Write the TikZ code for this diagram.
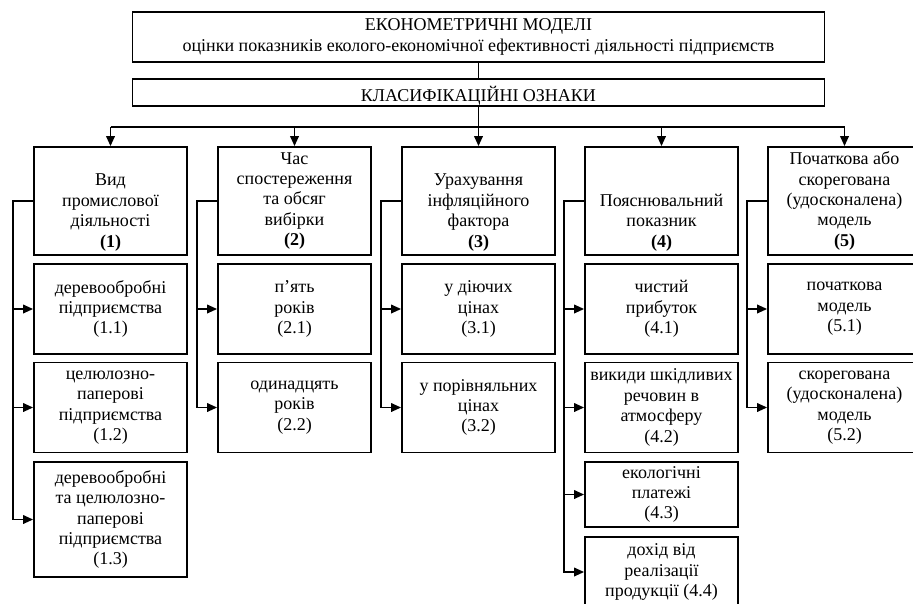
\documentclass[tikz,border=0pt]{standalone}
\usepackage{fontspec}
\setmainfont{Liberation Serif}
\usetikzlibrary{arrows.meta}
\tikzset{
  feld/.style={draw, line width=1.4pt, align=center, inner xsep=1pt, inner ysep=2pt,
    font=\fontsize{13.5}{15.3}\selectfont},
  kopf/.style={feld, minimum width=519pt},
  spalte/.style={feld, minimum width=114.75pt},
  linie/.style={line width=1.2pt},
  pfeil/.style={linie, -{Triangle[length=7.5pt,width=6.5pt]}}
}
\begin{document}
\begin{tikzpicture}[x=0.75pt,y=-0.75pt]
\useasboundingbox (0,0) rectangle (913,603);
\clip (0,0) rectangle (913,603);
% Kopf und Klassifikation
\node[kopf, minimum height=37.5pt] (modeli) at (478.5,37)
  {ЕКОНОМЕТРИЧНІ МОДЕЛІ\\оцінки показників еколого-економічної ефективності діяльності підприємств};
\node[kopf, minimum height=20.25pt, text height=14pt, text depth=0pt] (oznaky) at (478.5,92.5)
  {КЛАСИФІКАЦІЙНІ ОЗНАКИ};
% Merkmale (1)--(5)
\node[spalte, minimum height=81pt] (vyd) at (110.5,201)
  {\strut\\Вид\\промислової\\діяльності\\\textbf{(1)}};
\node[spalte, minimum height=81pt] (chas) at (294.5,201)
  {Час\\спостереження\\та обсяг\\вибірки\\\textbf{(2)}};
\node[spalte, minimum height=81pt] (infl) at (478.5,201)
  {\strut\\Урахування\\інфляційного\\фактора\\\textbf{(3)}};
\node[spalte, minimum height=81pt] (pokaz) at (661.5,201)
  {\strut\\\strut\\Пояснювальний\\показник\\\textbf{(4)}};
\node[spalte, minimum height=81pt] (model) at (844.5,201)
  {Початкова або\\скорегована\\(удосконалена)\\модель\\\textbf{(5)}};
% Spalte 1
\node[spalte, minimum height=67.5pt] (v11) at (110.5,309) {деревообробні\\підприємства\\(1.1)};
\node[spalte, minimum height=67.5pt] (v12) at (110.5,407.5) {целюлозно-\\паперові\\підприємства\\(1.2)};
\node[spalte, minimum height=86.25pt] (v13) at (110.5,519.5) {деревообробні\\та целюлозно-\\паперові\\підприємства\\(1.3)};
% Spalte 2
\node[spalte, minimum height=67.5pt] (c21) at (294.5,309) {п’ять\\років\\(2.1)};
\node[spalte, minimum height=67.5pt] (c22) at (294.5,407.5) {одинадцять\\років\\(2.2)};
% Spalte 3
\node[spalte, minimum height=67.5pt] (i31) at (478.5,309) {у діючих\\цінах\\(3.1)};
\node[spalte, minimum height=67.5pt] (i32) at (478.5,407.5) {у порівняльних\\цінах\\(3.2)};
% Spalte 4
\node[spalte, minimum height=67.5pt] (p41) at (661.5,309) {чистий\\прибуток\\(4.1)};
\node[spalte, minimum height=67.5pt] (p42) at (661.5,407.5) {викиди шкідливих\\речовин в\\атмосферу\\(4.2)};
\node[spalte, minimum height=48.75pt] (p43) at (661.5,494.5) {екологічні\\платежі\\(4.3)};
\node[spalte, minimum height=52.5pt] (p44) at (661.5,572) {дохід від\\реалізації\\продукції (4.4)};
% Spalte 5
\node[spalte, minimum height=67.5pt] (m51) at (844.5,309) {початкова\\модель\\(5.1)};
\node[spalte, minimum height=67.5pt] (m52) at (844.5,407.5) {скорегована\\(удосконалена)\\модель\\(5.2)};
% Verbindungen oben
\coordinate (bus) at (478.5,127);
\draw[linie] (modeli) -- (oznaky);
\draw[linie] (oznaky) -- (bus);
\draw[linie] (vyd.north |- bus) -- (model.north |- bus);
\draw[pfeil] (vyd.north |- bus) -- (vyd);
\draw[pfeil] (chas.north |- bus) -- (chas);
\draw[pfeil] (infl.north |- bus) -- (infl);
\draw[pfeil] (pokaz.north |- bus) -- (pokaz);
\draw[pfeil] (model.north |- bus) -- (model);
% seitliche Zweige
\draw[pfeil] (vyd.west) -- ++(-20,0) coordinate (s1) |- (v13);
\draw[pfeil] (s1 |- v11) -- (v11);
\draw[pfeil] (s1 |- v12) -- (v12);
\draw[pfeil] (chas.west) -- ++(-20,0) coordinate (s2) |- (c22);
\draw[pfeil] (s2 |- c21) -- (c21);
\draw[pfeil] (infl.west) -- ++(-20,0) coordinate (s3) |- (i32);
\draw[pfeil] (s3 |- i31) -- (i31);
\draw[pfeil] (pokaz.west) -- ++(-20,0) coordinate (s4) |- (p44);
\draw[pfeil] (s4 |- p41) -- (p41);
\draw[pfeil] (s4 |- p42) -- (p42);
\draw[pfeil] (s4 |- p43) -- (p43);
\draw[pfeil] (model.west) -- ++(-20,0) coordinate (s5) |- (m52);
\draw[pfeil] (s5 |- m51) -- (m51);
\end{tikzpicture}
\end{document}
